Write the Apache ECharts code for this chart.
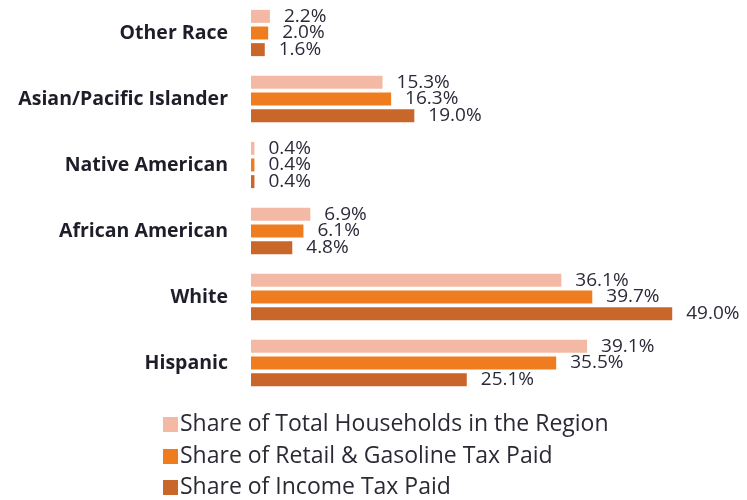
<!DOCTYPE html>
<html>
<head>
<meta charset="utf-8">
<script src="https://cdn.jsdelivr.net/npm/echarts@6/dist/echarts.min.js"></script>
<style>
  html, body { margin: 0; padding: 0; background: #ffffff; }
  #chart { width: 747px; height: 500px; }
</style>
</head>
<body>
<div id="chart"></div>
<script>
// Groups, listed top to bottom
const categories = ['Other Race', 'Asian/Pacific Islander', 'Native American', 'African American', 'White', 'Hispanic'];
const seriesNames = ['Share of Total Households in the Region', 'Share of Retail & Gasoline Tax Paid', 'Share of Income Tax Paid'];
const households = [2.2, 15.3, 0.4, 6.9, 36.1, 39.1];
const retailGasTax = [2.0, 16.3, 0.4, 6.1, 39.7, 35.5];
const incomeTax = [1.6, 19.0, 0.4, 4.8, 49.0, 25.1];
const colors = ['#f4b9a4', '#ef7d20', '#c9662a'];

const FONT = 'Open Sans';
const chart = echarts.init(document.getElementById('chart'), null, { renderer: 'canvas' });

const labelStyle = {
  show: true,
  position: 'right',
  distance: 14,
  formatter: p => p.value.toFixed(1) + '%',
  color: '#2a2a3a',
  fontFamily: FONT,
  fontSize: 19
};

function bar(name, data, color) {
  return {
    name, type: 'bar', data,
    barWidth: 13,
    barGap: '28%',
    itemStyle: { color },
    label: labelStyle
  };
}

// one legend row per series, stacked
function legendRow(name, top) {
  return {
    orient: 'vertical',
    left: 158,
    top,
    itemWidth: 15,
    itemHeight: 15,
    itemGap: 0,
    icon: 'rect',
    textStyle: { color: '#2a2a35', fontFamily: FONT, fontSize: 23, padding: [0, 0, 0, -3] },
    data: [name]
  };
}

chart.setOption({
  animation: false,
  backgroundColor: '#ffffff',
  grid: { left: 251, right: 6, top: 0, bottom: 104, containLabel: false },
  xAxis: {
    type: 'value', min: 0, max: 57,
    show: false
  },
  yAxis: {
    type: 'category',
    data: categories,
    inverse: true,
    axisLine: { show: false },
    axisTick: { show: false },
    axisLabel: {
      margin: 23,
      color: '#1e1e2a',
      fontFamily: FONT,
      fontWeight: 'bold',
      fontSize: 19.5
    }
  },
  legend: [
    legendRow(seriesNames[0], 408),
    legendRow(seriesNames[1], 440),
    legendRow(seriesNames[2], 471)
  ],
  series: [
    bar(seriesNames[0], households, colors[0]),
    bar(seriesNames[1], retailGasTax, colors[1]),
    bar(seriesNames[2], incomeTax, colors[2])
  ]
});
</script>
</body>
</html>
